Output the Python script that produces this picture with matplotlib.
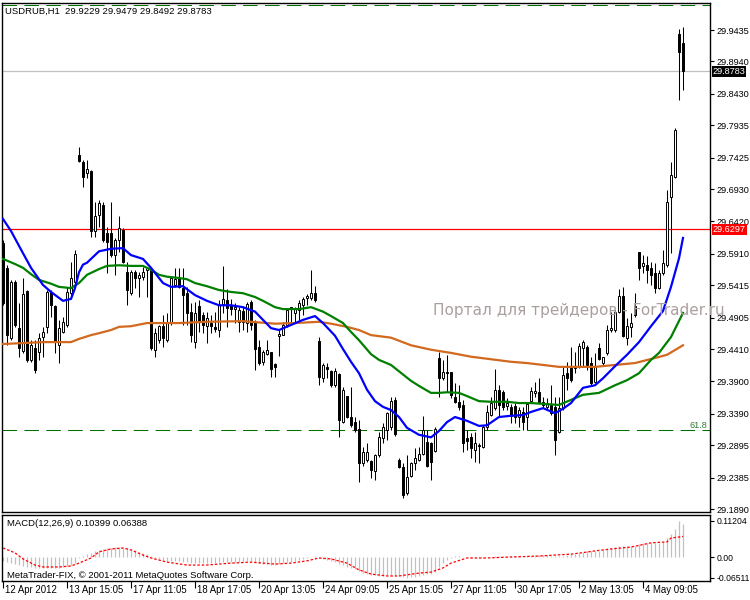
"""
USDRUB H1 chart in the MetaTrader look: candles, three moving averages,
levels and a MACD panel underneath.
"""
import numpy as np
import matplotlib.pyplot as plt
from matplotlib.transforms import blended_transform_factory

# ---- price data (one entry per hourly candle) ----
opens = [
    29.608, 29.569, 29.459, 29.547, 29.474, 29.438, 29.533, 29.424, 29.443, 29.436,
    29.460, 29.476, 29.531, 29.509, 29.447, 29.468, 29.479, 29.529, 29.547, 29.747,
    29.736, 29.718, 29.722, 29.627, 29.652, 29.668, 29.624, 29.624, 29.589, 29.613,
    29.629, 29.562, 29.529, 29.562, 29.553, 29.555, 29.566, 29.566, 29.440, 29.455,
    29.477, 29.455, 29.482, 29.542, 29.553, 29.537, 29.529, 29.500, 29.452, 29.509,
    29.495, 29.477, 29.482, 29.476, 29.471, 29.512, 29.518, 29.510, 29.504, 29.484,
    29.501, 29.482, 29.515, 29.484, 29.444, 29.421, 29.433, 29.436, 29.418, 29.462,
    29.463, 29.479, 29.504, 29.498, 29.503, 29.510, 29.521, 29.521, 29.529, 29.454,
    29.395, 29.413, 29.406, 29.384, 29.402, 29.326, 29.367, 29.334, 29.326, 29.315,
    29.262, 29.266, 29.265, 29.249, 29.274, 29.301, 29.314, 29.318, 29.361, 29.266,
    29.255, 29.214, 29.241, 29.262, 29.266, 29.276, 29.295, 29.293, 29.281, 29.427,
    29.395, 29.405, 29.405, 29.366, 29.358, 29.353, 29.301, 29.302, 29.282, 29.290,
    29.287, 29.318, 29.337, 29.348, 29.377, 29.374, 29.351, 29.350, 29.351, 29.334,
    29.342, 29.334, 29.359, 29.372, 29.373, 29.358, 29.350, 29.353, 29.350, 29.310,
    29.348, 29.403, 29.411, 29.411, 29.413, 29.443, 29.444, 29.419, 29.389, 29.443,
    29.419, 29.435, 29.471, 29.471, 29.500, 29.525, 29.459, 29.476, 29.509, 29.594,
    29.572, 29.573, 29.569, 29.561, 29.537, 29.561, 29.573, 29.681, 29.712, 29.937,
    29.9229,
]
highs = [
    29.613, 29.573, 29.550, 29.550, 29.514, 29.553, 29.534, 29.455, 29.455, 29.466,
    29.476, 29.534, 29.534, 29.510, 29.487, 29.492, 29.539, 29.578, 29.597, 29.759,
    29.739, 29.739, 29.723, 29.673, 29.676, 29.673, 29.633, 29.673, 29.616, 29.651,
    29.632, 29.578, 29.566, 29.566, 29.562, 29.570, 29.570, 29.569, 29.474, 29.479,
    29.495, 29.498, 29.555, 29.569, 29.569, 29.569, 29.539, 29.514, 29.515, 29.518,
    29.500, 29.500, 29.495, 29.500, 29.518, 29.572, 29.536, 29.520, 29.514, 29.507,
    29.509, 29.515, 29.518, 29.487, 29.455, 29.440, 29.455, 29.436, 29.419, 29.471,
    29.484, 29.506, 29.507, 29.507, 29.518, 29.523, 29.528, 29.566, 29.540, 29.460,
    29.419, 29.419, 29.408, 29.411, 29.403, 29.381, 29.367, 29.381, 29.334, 29.329,
    29.287, 29.293, 29.266, 29.276, 29.310, 29.325, 29.342, 29.366, 29.366, 29.270,
    29.262, 29.274, 29.263, 29.285, 29.287, 29.336, 29.314, 29.295, 29.318, 29.436,
    29.424, 29.432, 29.405, 29.388, 29.384, 29.361, 29.314, 29.309, 29.310, 29.293,
    29.321, 29.353, 29.366, 29.410, 29.384, 29.377, 29.364, 29.355, 29.356, 29.350,
    29.350, 29.358, 29.381, 29.389, 29.395, 29.366, 29.364, 29.384, 29.366, 29.366,
    29.413, 29.421, 29.444, 29.436, 29.451, 29.455, 29.447, 29.429, 29.435, 29.451,
    29.429, 29.479, 29.500, 29.503, 29.536, 29.539, 29.490, 29.498, 29.529, 29.594,
    29.589, 29.588, 29.578, 29.577, 29.566, 29.597, 29.692, 29.736, 29.789, 29.945,
    29.9479,
]
lows = [
    29.510, 29.447, 29.455, 29.476, 29.429, 29.435, 29.421, 29.421, 29.403, 29.424,
    29.429, 29.466, 29.492, 29.435, 29.419, 29.466, 29.476, 29.523, 29.545, 29.736,
    29.696, 29.711, 29.618, 29.618, 29.633, 29.610, 29.561, 29.586, 29.558, 29.594,
    29.577, 29.510, 29.526, 29.537, 29.523, 29.550, 29.523, 29.440, 29.429, 29.451,
    29.444, 29.452, 29.479, 29.539, 29.537, 29.479, 29.479, 29.452, 29.443, 29.468,
    29.466, 29.451, 29.466, 29.468, 29.460, 29.498, 29.476, 29.495, 29.482, 29.468,
    29.471, 29.468, 29.471, 29.408, 29.416, 29.416, 29.431, 29.397, 29.397, 29.430,
    29.463, 29.476, 29.484, 29.484, 29.484, 29.495, 29.510, 29.518, 29.515, 29.384,
    29.389, 29.395, 29.381, 29.381, 29.302, 29.324, 29.332, 29.318, 29.310, 29.232,
    29.257, 29.263, 29.238, 29.235, 29.271, 29.293, 29.298, 29.314, 29.304, 29.254,
    29.206, 29.211, 29.240, 29.251, 29.265, 29.274, 29.255, 29.235, 29.279, 29.366,
    29.392, 29.373, 29.364, 29.356, 29.345, 29.279, 29.282, 29.270, 29.263, 29.262,
    29.285, 29.314, 29.336, 29.345, 29.334, 29.345, 29.345, 29.325, 29.325, 29.318,
    29.314, 29.314, 29.358, 29.366, 29.356, 29.348, 29.345, 29.337, 29.274, 29.309,
    29.345, 29.377, 29.389, 29.403, 29.411, 29.413, 29.408, 29.384, 29.388, 29.424,
    29.416, 29.432, 29.468, 29.468, 29.498, 29.460, 29.447, 29.460, 29.492, 29.550,
    29.561, 29.545, 29.542, 29.529, 29.536, 29.558, 29.570, 29.592, 29.711, 29.833,
    29.8492,
]
closes = [
    29.514, 29.463, 29.547, 29.479, 29.443, 29.528, 29.424, 29.447, 29.408, 29.459,
    29.468, 29.531, 29.510, 29.452, 29.474, 29.484, 29.531, 29.553, 29.591, 29.737,
    29.712, 29.725, 29.627, 29.651, 29.671, 29.613, 29.610, 29.589, 29.613, 29.632,
    29.578, 29.534, 29.562, 29.553, 29.558, 29.562, 29.569, 29.443, 29.466, 29.477,
    29.459, 29.482, 29.553, 29.551, 29.539, 29.526, 29.498, 29.463, 29.498, 29.484,
    29.479, 29.490, 29.477, 29.473, 29.510, 29.520, 29.506, 29.504, 29.507, 29.503,
    29.484, 29.512, 29.479, 29.441, 29.419, 29.436, 29.440, 29.410, 29.413, 29.465,
    29.479, 29.503, 29.507, 29.504, 29.514, 29.520, 29.525, 29.529, 29.518, 29.397,
    29.416, 29.410, 29.384, 29.406, 29.329, 29.377, 29.334, 29.321, 29.314, 29.262,
    29.279, 29.279, 29.251, 29.274, 29.302, 29.318, 29.340, 29.359, 29.307, 29.255,
    29.211, 29.240, 29.262, 29.270, 29.276, 29.314, 29.257, 29.263, 29.315, 29.395,
    29.405, 29.403, 29.369, 29.358, 29.350, 29.293, 29.296, 29.285, 29.293, 29.288,
    29.318, 29.342, 29.356, 29.377, 29.353, 29.350, 29.356, 29.336, 29.334, 29.345,
    29.326, 29.355, 29.375, 29.375, 29.358, 29.353, 29.356, 29.340, 29.298, 29.348,
    29.400, 29.395, 29.392, 29.413, 29.446, 29.452, 29.416, 29.388, 29.413, 29.425,
    29.429, 29.471, 29.474, 29.500, 29.525, 29.462, 29.477, 29.482, 29.495, 29.569,
    29.577, 29.566, 29.558, 29.537, 29.561, 29.577, 29.673, 29.715, 29.786, 29.909,
    29.8783,
]

# ---- moving averages, read at candle positions ----
ma_fast_idx = [0, 2, 5, 7, 10, 12, 15, 17, 18, 19, 20, 21, 24, 27, 30, 32, 35, 37, 40, 42,
               45, 48, 51, 54, 57, 60, 63, 65, 67, 69, 72, 75, 78, 80, 83, 85, 87, 89, 91, 93,
               95, 97, 99, 101, 104, 107, 109, 111, 113, 116, 119, 121, 124, 127, 130, 132,
               135, 138, 140, 142, 145, 148, 150, 153, 156, 159, 162, 165, 167, 169, 170]
ma_fast = [29.646, 29.627, 29.592, 29.569, 29.542, 29.531, 29.517, 29.520, 29.537, 29.562,
           29.574, 29.577, 29.595, 29.599, 29.600, 29.589, 29.583, 29.569, 29.545, 29.539,
           29.540, 29.526, 29.517, 29.510, 29.510, 29.507, 29.500, 29.487, 29.474, 29.471,
           29.479, 29.487, 29.493, 29.482, 29.462, 29.441, 29.421, 29.403, 29.377, 29.359,
           29.350, 29.345, 29.334, 29.317, 29.306, 29.302, 29.312, 29.326, 29.334, 29.328,
           29.320, 29.321, 29.334, 29.336, 29.337, 29.342, 29.348, 29.340, 29.347, 29.356,
           29.380, 29.384, 29.395, 29.414, 29.432, 29.452, 29.477, 29.501, 29.539, 29.584,
           29.616]

ma_mid_idx = [0, 3, 5, 7, 9, 12, 14, 17, 19, 21, 24, 26, 29, 32, 35, 37, 39, 41, 44, 46,
              48, 51, 54, 57, 60, 63, 65, 68, 70, 74, 77, 80, 82, 85, 87, 89, 92, 94, 97, 99,
              102, 104, 107, 109, 111, 114, 116, 119, 122, 126, 129, 132, 139, 142, 145, 149,
              153, 156, 159, 162, 164, 167, 170]
ma_mid = [29.583, 29.575, 29.569, 29.559, 29.550, 29.544, 29.539, 29.537, 29.545, 29.558,
          29.567, 29.572, 29.573, 29.572, 29.572, 29.566, 29.558, 29.555, 29.553, 29.551,
          29.545, 29.540, 29.534, 29.531, 29.529, 29.523, 29.517, 29.507, 29.504, 29.504,
          29.507, 29.500, 29.493, 29.482, 29.468, 29.455, 29.433, 29.424, 29.416, 29.406,
          29.391, 29.383, 29.372, 29.372, 29.373, 29.372, 29.367, 29.359, 29.358, 29.358,
          29.356, 29.356, 29.353, 29.361, 29.369, 29.372, 29.384, 29.392, 29.403, 29.424,
          29.435, 29.460, 29.498]

ma_slow_idx = [0, 10, 17, 19, 22, 24, 27, 29, 32, 36, 44, 51, 60, 66, 68, 73, 79, 82, 86, 89,
               92, 97, 102, 107, 112, 117, 122, 127, 131, 139, 148, 153, 158, 163, 166, 170]
ma_slow = [29.449, 29.452, 29.452, 29.457, 29.463, 29.466, 29.471, 29.476, 29.477, 29.482,
           29.482, 29.484, 29.485, 29.482, 29.481, 29.482, 29.484, 29.481, 29.476, 29.471,
           29.463, 29.459, 29.447, 29.440, 29.435, 29.429, 29.425, 29.421, 29.419, 29.413,
           29.413, 29.416, 29.419, 29.427, 29.432, 29.447]

# ---- levels ----
bid = 29.8783
red_level = 29.6297
fibo_618 = 29.3136
fibo_top = 29.9829

# ---- MACD(12,26,9) ----
macd_hist = [
    -0.012, -0.016, -0.019, -0.022, -0.025, -0.028, -0.030, -0.032, -0.034, -0.035,
    -0.035, -0.034, -0.033, -0.034, -0.033, -0.031, -0.028, -0.024, -0.018, -0.004,
    0.004, 0.010, 0.014, 0.018, 0.022, 0.025, 0.027, 0.029, 0.030, 0.030,
    0.029, 0.027, 0.024, 0.021, 0.017, 0.013, 0.009, 0.002, -0.003, -0.007,
    -0.010, -0.012, -0.011, -0.012, -0.013, -0.015, -0.016, -0.018, -0.018, -0.018,
    -0.018, -0.018, -0.018, -0.018, -0.017, -0.016, -0.015, -0.015, -0.015, -0.014,
    -0.014, -0.013, -0.013, -0.016, -0.019, -0.021, -0.022, -0.024, -0.025, -0.023,
    -0.020, -0.017, -0.014, -0.011, -0.008, -0.005, -0.002, 0.001, 0.003, -0.002,
    -0.006, -0.009, -0.013, -0.016, -0.022, -0.026, -0.030, -0.034, -0.038, -0.045,
    -0.049, -0.052, -0.055, -0.057, -0.058, -0.058, -0.057, -0.056, -0.057, -0.060,
    -0.063, -0.065, -0.063, -0.062, -0.060, -0.056, -0.054, -0.052, -0.048, -0.030,
    -0.018, -0.008, -0.002, 0.002, 0.003, 0.001, -0.001, -0.002, -0.003, -0.004,
    -0.003, -0.001, 0.001, 0.003, 0.003, 0.003, 0.003, 0.002, 0.002, 0.002,
    0.001, 0.002, 0.004, 0.005, 0.005, 0.005, 0.005, 0.004, 0.002, 0.002,
    0.004, 0.006, 0.008, 0.010, 0.014, 0.017, 0.018, 0.018, 0.019, 0.020,
    0.021, 0.024, 0.027, 0.030, 0.033, 0.033, 0.034, 0.035, 0.035, 0.040,
    0.042, 0.043, 0.044, 0.044, 0.044, 0.046, 0.058, 0.070, 0.087, 0.112,
    0.104,
]
signal_idx = [0, 3, 5, 8, 10, 14, 17, 19, 22, 24, 27, 30, 32, 35, 37, 41, 46, 51, 57, 62,
              68, 72, 76, 79, 82, 86, 89, 92, 96, 99, 104, 107, 110, 112, 116, 121, 127,
              134, 142, 144, 148, 152, 157, 162, 166, 167, 170]
signal = [0.028, 0.013, -0.006, -0.025, -0.031, -0.031, -0.028, -0.019, -0.003, 0.016,
          0.025, 0.028, 0.022, 0.006, -0.003, -0.016, -0.025, -0.025, -0.019, -0.016,
          -0.022, -0.019, -0.012, -0.003, -0.006, -0.019, -0.040, -0.053, -0.059, -0.059,
          -0.050, -0.047, -0.034, -0.019, -0.003, -0.003, 0.000, 0.003, 0.009, 0.012,
          0.019, 0.025, 0.031, 0.044, 0.047, 0.059, 0.0639]

price_ticks = [29.9435, 29.8940, 29.8430, 29.7935, 29.7425, 29.6930, 29.6420, 29.5910,
               29.5415, 29.4905, 29.4410, 29.3900, 29.3390, 29.2895, 29.2385, 29.1890]
macd_ticks = [0.11204, 0.0, -0.06511]
macd_tick_labels = ['0.11204', '0.00', '-0.06511']
date_pos = [0, 16, 32, 48, 64, 80, 96, 112, 128, 144, 160]
date_labels = ['12 Apr 2012', '13 Apr 15:05', '17 Apr 11:05', '18 Apr 17:05',
               '20 Apr 13:05', '24 Apr 09:05', '25 Apr 15:05', '27 Apr 11:05',
               '30 Apr 17:05', '2 May 13:05', '4 May 09:05']

W, H = 750, 600
LABEL_FONT = ['Liberation Sans', 'DejaVu Sans']


def px_box(x0, y0, x1, y1):
    """ axes rectangle from pixel corners (origin top-left) """
    return [x0 / W, 1 - y1 / H, (x1 - x0) / W, (y1 - y0) / H]


def main():
    plt.rcParams['font.family'] = LABEL_FONT
    fig = plt.figure(figsize=(7.5, 6), dpi=100)
    fig.patch.set_facecolor('white')

    ax = fig.add_axes(px_box(2, 3, 710, 512))
    axm = fig.add_axes(px_box(2, 515, 710, 581))

    o = np.array(opens)
    h = np.array(highs)
    l = np.array(lows)
    c = np.array(closes)
    idx = np.arange(len(c))
    up = c >= o
    body_lo = np.minimum(o, c)
    body_h = np.maximum(np.abs(c - o), 0.0008)

    # levels
    ax.axhline(bid, color='#c0c0c0', lw=0.9, zorder=1)
    ax.axhline(red_level, color='red', lw=0.9, zorder=1)
    ax.axhline(fibo_618, color='#007000', lw=0.75, ls=(0, (14, 7)), zorder=1)
    ax.axhline(fibo_top, color='#007000', lw=0.75, ls=(0, (14, 7)), zorder=1)

    # candles
    ax.vlines(idx, l, h, color='black', lw=0.75, zorder=2)
    ax.bar(idx[up], body_h[up], bottom=body_lo[up], width=0.5,
           facecolor='white', edgecolor='black', lw=0.7, zorder=3)
    ax.bar(idx[~up], body_h[~up], bottom=body_lo[~up], width=0.5,
           facecolor='black', edgecolor='black', lw=0.7, zorder=3)

    # moving averages
    ax.plot(ma_slow_idx, ma_slow, color='#d2691e', lw=1.6, zorder=4)
    ax.plot(ma_mid_idx, ma_mid, color='#008000', lw=1.6, zorder=4)
    ax.plot(ma_fast_idx, ma_fast, color='#0000ff', lw=1.6, zorder=4)

    ax.set_xlim(-0.25, 176.75)
    ax.set_ylim(29.1844, 29.9861)
    ax.set_yticks(price_ticks)
    ax.set_yticklabels(['{:.4f}'.format(v) for v in price_ticks])
    ax.tick_params(axis='y', left=False, right=True, labelleft=False, labelright=True,
                   direction='out', length=3, width=0.8, pad=2, labelsize=6.6)
    ax.tick_params(axis='x', bottom=False, labelbottom=False)
    for s in ax.spines.values():
        s.set_linewidth(1.0)

    trans = blended_transform_factory(ax.transAxes, ax.transData)
    ax.text(1.004, bid, '{:.4f}'.format(bid), transform=trans, color='white',
            fontsize=6.6, va='center', ha='left', clip_on=False, zorder=6,
            bbox=dict(boxstyle='square,pad=0.1', fc='black', ec='none'))
    ax.text(1.004, red_level, '{:.4f}'.format(red_level), transform=trans, color='white',
            fontsize=6.6, va='center', ha='left', clip_on=False, zorder=6,
            bbox=dict(boxstyle='square,pad=0.1', fc='red', ec='none'))
    ax.text(176.0, 29.3214, '61.8', color='#2e7d32', fontsize=6.6, ha='right',
            va='center', zorder=5)

    fig.text(5 / W, 1 - 11 / H, 'USDRUB,H1  29.9229 29.9479 29.8492 29.8783',
             fontsize=6.8, va='center', ha='left')
    fig.text(433 / W, 1 - 311 / H, 'Портал для трейдеров - ForTrader.ru',
             family='DejaVu Sans', fontsize=11, color='#ab9f9f', va='center',
             ha='left', zorder=10)

    # MACD panel
    axm.vlines(idx, 0, macd_hist, color='#c0c0c0', lw=0.9, zorder=2)
    axm.plot(signal_idx, signal, color='red', lw=0.9, ls=(0, (2, 1.5)), zorder=3)
    axm.set_xlim(-0.25, 176.75)
    axm.set_ylim(-0.0746, 0.1306)
    axm.set_yticks(macd_ticks)
    axm.set_yticklabels(macd_tick_labels)
    axm.tick_params(axis='y', left=False, right=True, labelleft=False, labelright=True,
                    direction='out', length=3, width=0.8, pad=1.5, labelsize=6.2)
    axm.set_xticks(date_pos)
    axm.tick_params(axis='x', direction='out', length=5, width=0.8, labelbottom=False)
    for s in axm.spines.values():
        s.set_linewidth(1.0)

    tb = blended_transform_factory(axm.transData, axm.transAxes)
    for pos, lab in zip(date_pos, date_labels):
        axm.text(pos + 0.6, -0.14, lab, transform=tb, fontsize=6.9, ha='left',
                 va='center', clip_on=False)

    fig.text(7 / W, 1 - 524 / H, 'MACD(12,26,9) 0.10399 0.06388', fontsize=6.8,
             va='center', ha='left')
    fig.text(7 / W, 1 - 575 / H, 'MetaTrader-FIX, © 2001-2011 MetaQuotes Software Corp.',
             fontsize=6.8, va='center', ha='left')

    fig.savefig('out.png', dpi=100)


if __name__ == '__main__':
    main()
